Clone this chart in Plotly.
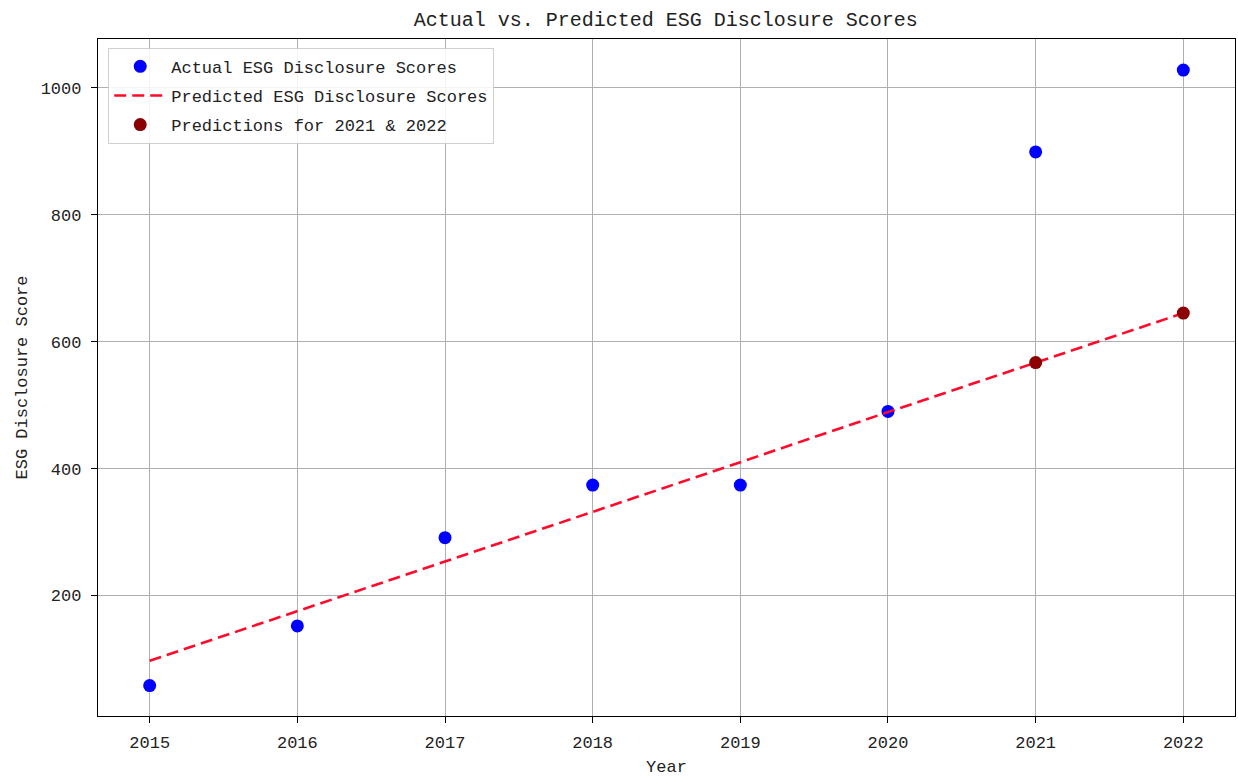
import plotly.graph_objects as go

# ESG disclosure scores by year
years = [2015, 2016, 2017, 2018, 2019, 2020, 2021, 2022]
actual_scores = [58, 152, 291, 374, 374, 490, 899, 1028]
predicted_scores = [97, 175, 254, 332, 410, 489, 567, 645]
forecast_years = [2021, 2022]
forecast_scores = [567, 645]

FONT = "Liberation Mono"
TEXT = "#222222"

fig = go.Figure()

fig.add_trace(go.Scatter(
    x=years, y=actual_scores, mode="markers",
    name="Actual ESG Disclosure Scores",
    marker=dict(color="blue", size=13, line=dict(width=0)),
    legendgroup="a",
))
fig.add_trace(go.Scatter(
    x=years, y=predicted_scores, mode="lines",
    name="Predicted ESG Disclosure Scores",
    line=dict(color="#ff0a2a", width=2.6, dash="12px,6px"),
    legendgroup="b",
))
fig.add_trace(go.Scatter(
    x=forecast_years, y=forecast_scores, mode="markers",
    name="Predictions for 2021 & 2022",
    marker=dict(color="#8b0000", size=13, line=dict(width=0)),
    legendgroup="c",
))

axis_common = dict(
    showline=True, linecolor="black", linewidth=1.3, mirror=True,
    showgrid=True, gridcolor="#b0b0b0", gridwidth=1,
    ticks="outside", ticklen=6, tickcolor="black", tickwidth=1,
    zeroline=False,
    tickfont=dict(family=FONT, size=17, color=TEXT),
)

fig.update_xaxes(
    **axis_common,
    range=[2014.65, 2022.35],
    tickmode="array", tickvals=years, ticktext=[str(y) for y in years],
    ticklabelstandoff=4,
    title=dict(text="Year", font=dict(family=FONT, size=17, color=TEXT), standoff=8),
)
fig.update_yaxes(
    **axis_common,
    range=[10, 1077],
    tickmode="array", tickvals=[200, 400, 600, 800, 1000],
    ticklabelstandoff=6,
    title=dict(text="ESG Disclosure Score", font=dict(family=FONT, size=17, color=TEXT), standoff=8),
)

fig.update_layout(
    width=1238, height=780,
    margin=dict(l=98, r=3, t=39, b=64),
    paper_bgcolor="white", plot_bgcolor="white",
    title=dict(
        text="Actual vs. Predicted ESG Disclosure Scores",
        font=dict(family=FONT, size=20, color=TEXT),
        x=0.5378, xanchor="center", y=0.976, yanchor="middle",
    ),
    showlegend=True,
    legend=dict(
        x=0.009, y=0.987, xanchor="left", yanchor="top",
        bgcolor="rgba(255,255,255,0.85)", bordercolor="#d0d0d0", borderwidth=1,
        font=dict(family=FONT, size=17, color=TEXT),
        traceorder="grouped", tracegroupgap=4,
        itemwidth=52,
    ),
)

fig.write_html("out.html")
